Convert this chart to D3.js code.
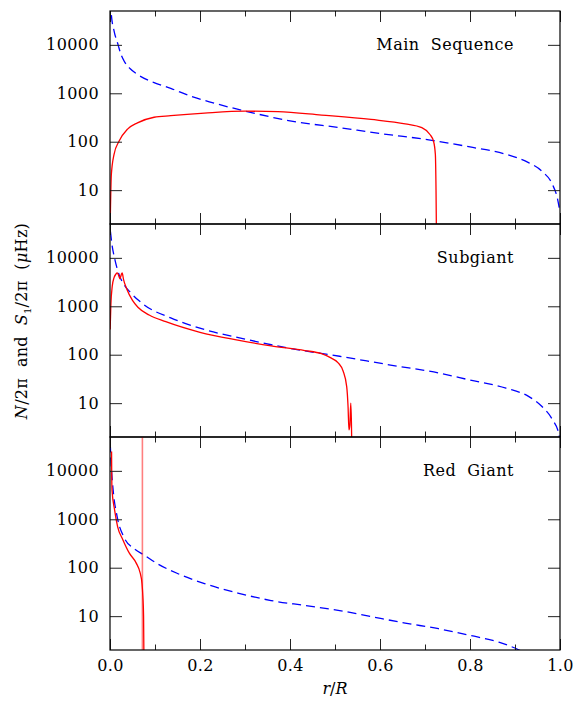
<!DOCTYPE html>
<html lang="en">
<head>
  <meta charset="utf-8">
  <title>Buoyancy and Lamb frequencies</title>
  <style>
    body { margin: 0; background: #fff; }
    text { font-family: "DejaVu Serif", serif; font-size: 16px; fill: #000; }
  </style>
</head>
<body>
  <script src="https://cdn.jsdelivr.net/npm/d3@7/dist/d3.min.js"></script>
  <script>
    // [r/R, frequency in microHz]
    var msS1 = [[0.001, 80000], [0.003, 42000], [0.009, 19500], [0.018, 10000], [0.024, 6500], [0.031, 4700],
      [0.045, 3200], [0.061, 2450], [0.098, 1660], [0.135, 1260], [0.18, 870], [0.225, 650], [0.30, 430],
      [0.40, 270], [0.51, 195], [0.60, 148], [0.715, 107], [0.80, 78], [0.88, 55], [0.93, 37], [0.96, 24.5],
      [0.983, 13.2], [0.994, 6.9], [1.0, 3.5]];
    var msN = [[0.0002, 1.5], [0.003, 21], [0.009, 55], [0.020, 102], [0.039, 182], [0.061, 245],
      [0.098, 320], [0.135, 345], [0.21, 389], [0.30, 427], [0.373, 417], [0.47, 355], [0.58, 288],
      [0.656, 234], [0.693, 195], [0.711, 141], [0.719, 102], [0.723, 55], [0.7245, 10], [0.7255, 1]];

    var sgS1 = [[0.001, 35000], [0.004, 20000], [0.010, 10000], [0.021, 4300], [0.031, 2820], [0.046, 1900],
      [0.076, 1070], [0.135, 575], [0.21, 331], [0.30, 210], [0.40, 135], [0.51, 93], [0.62, 62],
      [0.73, 42], [0.80, 30], [0.88, 20.4], [0.93, 13.8], [0.96, 8.5], [0.983, 4.6], [0.998, 2.2], [1.0, 1.5]];
    var sgN = [[0.0003, 330], [0.002, 1100], [0.005, 2600], [0.009, 3900], [0.013, 4600], [0.016, 4900],
      [0.019, 4400], [0.022, 3700], [0.025, 4500], [0.027, 4900], [0.030, 3600], [0.037, 2300],
      [0.050, 1320], [0.062, 955], [0.087, 660], [0.124, 480], [0.2, 290], [0.284, 200], [0.358, 152],
      [0.433, 122], [0.47, 105], [0.492, 85], [0.507, 68], [0.518, 46], [0.526, 22], [0.529, 8.5],
      [0.531, 2.8], [0.533, 3.5], [0.535, 10], [0.5365, 4], [0.5375, 1]];

    var rgS1 = [[0.0005, 37000], [0.003, 12000], [0.007, 4000], [0.016, 1120], [0.031, 427], [0.054, 245],
      [0.076, 182], [0.106, 120], [0.15, 76], [0.21, 47], [0.284, 30], [0.358, 21], [0.433, 16.6],
      [0.507, 13.2], [0.58, 9.8], [0.656, 7.2], [0.73, 5.5], [0.80, 4.0], [0.864, 2.9], [0.909, 2.0], [0.95, 1.2]];
    var rgN = [[0.0035, 25000], [0.0038, 9000], [0.0045, 4000], [0.010, 1600], [0.017, 700], [0.0285, 380],
      [0.043, 200], [0.058, 126], [0.067, 78], [0.071, 48], [0.073, 26], [0.0746, 10], [0.0755, 1]];
    var rgMarker = [0.072]; // pale vertical line in the red giant panel

    var panelNames = ["Main Sequence", "Subgiant", "Red Giant"];
    var panelS1 = [msS1, sgS1, rgS1];
    var panelN = [msN, sgN, rgN];
    var panelMarkers = [[], [], rgMarker];

    var yDomain = [2, 50000];
    var yTicks = [10, 100, 1000, 10000];
    var xTicks = [0, 0.2, 0.4, 0.6, 0.8, 1.0];
    var xMinorTicks = [0.1, 0.3, 0.5, 0.7, 0.9];

    var width = 581, height = 710;
    var plotLeft = 110, plotRight = 560, plotTop = 11, panelH = 213;
    var w = plotRight - plotLeft;

    var svg = d3.select("body").append("svg")
      .attr("width", width)
      .attr("height", height);

    var x = d3.scaleLinear().domain([0, 1]).range([0, w]);
    var y = d3.scaleLog().domain(yDomain).range([panelH, 0]);

    var line = d3.line()
      .x(function(d) { return x(d[0]); })
      .y(function(d) { return y(d[1]); })
      .curve(d3.curveMonotoneX);

    panelNames.forEach(function(name, i) {
      var g = svg.append("g")
        .attr("transform", "translate(" + plotLeft + "," + (plotTop + i * panelH) + ")");

      g.append("clipPath").attr("id", "clip" + i)
        .append("rect").attr("width", w).attr("height", panelH);

      var plot = g.append("g").attr("clip-path", "url(#clip" + i + ")");

      plot.append("path")
        .datum(panelS1[i])
        .attr("d", line)
        .attr("fill", "none")
        .attr("stroke", "#0000ff")
        .attr("stroke-width", 1.3)
        .attr("stroke-dasharray", "9,5");

      plot.selectAll(".marker")
        .data(panelMarkers[i])
        .enter()
        .append("line")
        .attr("x1", function(d) { return x(d); })
        .attr("x2", function(d) { return x(d); })
        .attr("y1", 0)
        .attr("y2", panelH)
        .attr("stroke", "#ff0000")
        .attr("stroke-opacity", 0.5)
        .attr("stroke-width", 1.6);

      plot.append("path")
        .datum(panelN[i])
        .attr("d", line)
        .attr("fill", "none")
        .attr("stroke", "#ff0000")
        .attr("stroke-width", 1.3);

      // ticks on all four sides, pointing inward
      g.append("g")
        .call(d3.axisLeft(y).tickValues(yTicks).tickSize(-12).tickSizeOuter(0)
          .tickPadding(11).tickFormat(d3.format("d")));
      g.append("g").attr("transform", "translate(" + w + ",0)")
        .call(d3.axisRight(y).tickValues(yTicks).tickSize(-12).tickSizeOuter(0).tickFormat(""));

      g.append("g").attr("transform", "translate(0," + panelH + ")")
        .call(d3.axisBottom(x).tickValues(xTicks).tickSize(-11).tickSizeOuter(0)
          .tickPadding(10).tickFormat(i === 2 ? d3.format(".1f") : ""));
      g.append("g").attr("transform", "translate(0," + panelH + ")")
        .call(d3.axisBottom(x).tickValues(xMinorTicks).tickSize(-5.5).tickSizeOuter(0).tickFormat(""));
      g.append("g")
        .call(d3.axisTop(x).tickValues(xTicks).tickSize(-11).tickSizeOuter(0).tickFormat(""));
      g.append("g")
        .call(d3.axisTop(x).tickValues(xMinorTicks).tickSize(-5.5).tickSizeOuter(0).tickFormat(""));

      g.selectAll(".domain").remove();
      g.selectAll(".tick line").attr("stroke", "#222");
      g.selectAll(".tick text")
        .attr("font-family", "DejaVu Serif, serif")
        .attr("font-size", 16)
        .attr("letter-spacing", "0.4px")
        .attr("fill", "#000");

      g.append("rect")
        .attr("width", w)
        .attr("height", panelH)
        .attr("fill", "none")
        .attr("stroke", "#000")
        .attr("stroke-width", 1.2);

      g.append("text")
        .attr("x", 404)
        .attr("y", 39)
        .attr("text-anchor", "end")
        .attr("letter-spacing", "0.5px")
        .attr("xml:space", "preserve")
        .text(name.replace(" ", "  "));
    });

    // axis titles
    var xTitle = svg.append("text")
      .attr("x", plotLeft + w / 2)
      .attr("y", 694)
      .attr("text-anchor", "middle");
    xTitle.append("tspan").attr("font-style", "italic").text("r");
    xTitle.append("tspan").text("/");
    xTitle.append("tspan").attr("font-style", "italic").text("R");

    var yTitle = svg.append("text")
      .attr("transform", "translate(27,321) rotate(-90)")
      .attr("text-anchor", "middle")
      .attr("letter-spacing", "0.3px")
      .attr("xml:space", "preserve");
    yTitle.append("tspan").attr("font-style", "italic").text("N");
    yTitle.append("tspan").text("/2\u03c0  and  ");
    yTitle.append("tspan").attr("font-style", "italic").text("S");
    yTitle.append("tspan").attr("font-size", "10px").attr("dy", 4).text("1");
    yTitle.append("tspan").attr("dy", -4).text("/2\u03c0  (");
    yTitle.append("tspan").attr("font-style", "italic").text("\u03bc");
    yTitle.append("tspan").text("Hz)");
  </script>
</body>
</html>
